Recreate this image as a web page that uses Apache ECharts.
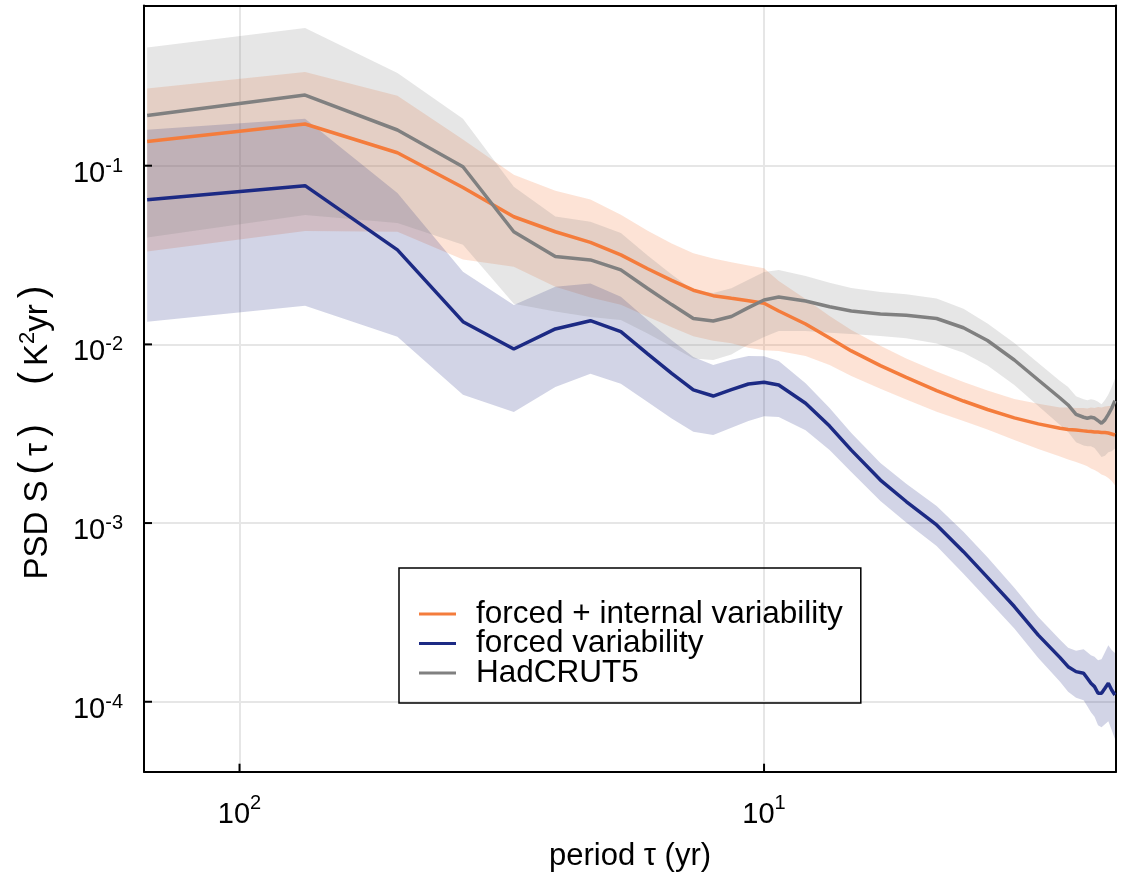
<!DOCTYPE html>
<html><head><meta charset="utf-8">
<script src="https://cdn.jsdelivr.net/npm/echarts@6/dist/echarts.min.js"></script>
<style>html,body{margin:0;padding:0;background:#fff}#c{width:1127px;height:879px}</style>
</head><body><div id="c"></div>
<script>
// period tau (yr)
const period = [150, 75, 50, 37.5, 30, 25, 21.43, 18.75, 16.67, 15, 13.64, 12.5, 11.54, 10.71, 10,
  9.375, 8.333, 7.5, 6.818, 6, 5.357, 4.688, 4.167, 3.75, 3.333, 3, 2.727,
  2.632, 2.542, 2.459, 2.419, 2.381, 2.344, 2.308, 2.273, 2.239, 2.206, 2.174, 2.143];

// forced + internal variability
const orange = [0.1366, 0.1712, 0.1182, 0.0755, 0.0518, 0.0427, 0.0372, 0.0317, 0.0265, 0.0228, 0.0201, 0.01873, 0.01811, 0.01756, 0.01698,
  0.01537, 0.0130, 0.01086, 0.00919, 0.00760, 0.00653, 0.00551, 0.00482, 0.00432, 0.00388, 0.00359, 0.00339,
  0.00334, 0.00332, 0.00328, 0.00326, 0.00325, 0.00323, 0.00323, 0.00321, 0.00321, 0.00319, 0.00315, 0.00311];
const orangeHi = [0.2705, 0.3345, 0.2463, 0.1401, 0.0890, 0.0724, 0.0647, 0.0531, 0.0432, 0.0367, 0.0324, 0.0302, 0.0288, 0.0276, 0.0267,
  0.0226, 0.01794, 0.01442, 0.01205, 0.00983, 0.00834, 0.00704, 0.00616, 0.00552, 0.00495, 0.00465, 0.00444,
  0.00444, 0.00441, 0.00441, 0.00438, 0.00443, 0.00440, 0.00446, 0.00443, 0.00449, 0.00452, 0.00452, 0.00458];
const orangeLo = [0.0331, 0.0431, 0.0427, 0.0299, 0.0272, 0.0210, 0.0183, 0.01664, 0.01428, 0.01245, 0.01111, 0.01049, 0.01014, 0.00959, 0.00927,
  0.00918, 0.00860, 0.00767, 0.00666, 0.00565, 0.00492, 0.00420, 0.00372, 0.00334, 0.00292, 0.00260, 0.00236,
  0.00227, 0.00220, 0.00212, 0.00208, 0.00202, 0.00198, 0.00193, 0.00187, 0.00184, 0.00179, 0.00172, 0.00163];

// forced variability
const blue = [0.0645, 0.0773, 0.0338, 0.01340, 0.00942, 0.01220, 0.01357, 0.01178, 0.00884, 0.00688, 0.00556, 0.00514, 0.00558, 0.00600, 0.00614,
  0.00593, 0.00468, 0.00349, 0.00256, 0.00174, 0.00132, 0.000976, 0.000692, 0.000497, 0.000341, 0.000236, 0.0001765,
  0.0001572, 0.0001474, 0.0001444, 0.0001353, 0.0001269, 0.0001215, 0.0001116, 0.0001116, 0.0001190, 0.0001269, 0.0001164, 0.0001091];
const blueHi = [0.1589, 0.1833, 0.0704, 0.0255, 0.01661, 0.0210, 0.0219, 0.01849, 0.01370, 0.01053, 0.00851, 0.00766, 0.00821, 0.00861, 0.00858,
  0.00808, 0.00606, 0.00440, 0.00319, 0.00217, 0.00166, 0.001246, 0.000895, 0.000643, 0.000435, 0.000298, 0.0002226,
  0.0002007, 0.0001932, 0.0001967, 0.0001891, 0.0001821, 0.0001788, 0.0001707, 0.0001730, 0.0001892, 0.0002071, 0.0001949, 0.0001874];
const blueLo = [0.01339, 0.01647, 0.01102, 0.00523, 0.00418, 0.00578, 0.00685, 0.00603, 0.00476, 0.00385, 0.00324, 0.00311, 0.00342, 0.00372, 0.00396,
  0.00392, 0.00331, 0.00256, 0.00193, 0.00133, 0.001007, 0.000744, 0.000521, 0.000374, 0.000257, 0.0001755, 0.0001296,
  0.0001139, 0.0001054, 0.0001020, 0.0000943, 0.0000873, 0.0000825, 0.0000739, 0.0000720, 0.0000748, 0.0000778, 0.0000695, 0.0000619];

// HadCRUT5
const gray = [0.1910, 0.2486, 0.1584, 0.0987, 0.0427, 0.0310, 0.0297, 0.0261, 0.02055, 0.01670, 0.01395, 0.01352, 0.01433, 0.01606, 0.01772,
  0.01841, 0.01749, 0.01623, 0.01538, 0.01480, 0.01455, 0.01396, 0.01239, 0.01051, 0.00818, 0.00632, 0.00501,
  0.00458, 0.00406, 0.00391, 0.00386, 0.00391, 0.00387, 0.00374, 0.00362, 0.00378, 0.00406, 0.00439, 0.00484];
const grayHi = [0.459, 0.589, 0.330, 0.1832, 0.0763, 0.0519, 0.0485, 0.0420, 0.0314, 0.0246, 0.0200, 0.0194, 0.0206, 0.0230, 0.0254,
  0.0261, 0.0241, 0.0221, 0.0207, 0.01966, 0.01908, 0.01806, 0.01582, 0.01309, 0.01018, 0.00787, 0.00624,
  0.00578, 0.00512, 0.00493, 0.00487, 0.00493, 0.00488, 0.00478, 0.00462, 0.00489, 0.00525, 0.00576, 0.00643];
const grayLo = [0.0397, 0.0530, 0.0478, 0.0361, 0.01689, 0.01526, 0.01425, 0.01370, 0.01151, 0.00972, 0.00833, 0.00818, 0.00878, 0.00997, 0.0110,
  0.01188, 0.01188, 0.01161, 0.01143, 0.01114, 0.01082, 0.01012, 0.00898, 0.00762, 0.00593, 0.00452, 0.00354,
  0.00323, 0.00283, 0.00272, 0.00269, 0.00269, 0.00263, 0.00248, 0.00234, 0.00238, 0.00249, 0.00252, 0.00261];

// tick values (decades)
const xTickVals = [10, 100];
const yTickVals = [1e-4, 1e-3, 1e-2, 1e-1];

const names = ['forced + internal variability', 'forced variability', 'HadCRUT5'];

const FONT = '"Liberation Sans", Arial, Helvetica, sans-serif';
const C_OR = '#f47c3c', C_BL = '#1c2a84', C_GR = '#808080';
const X_MIN = 2.133, X_MAX = 152.1, Y_MIN = 4.06e-5, Y_MAX = 0.788;

function decadeLabel(v) {
  const l = Math.log10(v);
  const e = Math.round(l);
  if (Math.abs(l - e) > 1e-6) return '';
  return '{b|10}{s|' + e + '}';
}
function tickRich(raise) {
  return {
    b: { fontFamily: FONT, fontSize: 29, lineHeight: 29, color: '#000', verticalAlign: 'bottom' },
    s: { fontFamily: FONT, fontSize: 20, lineHeight: 20, color: '#000', verticalAlign: 'bottom', padding: [0, 0, raise, 0] }
  };
}
function band(name, lo, hi, color) {
  return {
    type: 'custom', name: name, silent: true, clip: true, z: 1,
    data: [[period[0], hi[0]]],
    renderItem: function (params, api) {
      const pts = [];
      for (let i = 0; i < period.length; i++) pts.push(api.coord([period[i], hi[i]]));
      for (let i = period.length - 1; i >= 0; i--) pts.push(api.coord([period[i], lo[i]]));
      return { type: 'polygon', shape: { points: pts }, style: { fill: color } };
    }
  };
}
function line(name, vals, color) {
  return {
    type: 'line', name: name, data: period.map((p, i) => [p, vals[i]]),
    showSymbol: false, symbol: 'none', silent: true, z: 3,
    lineStyle: { color: color, width: 3.5 }, itemStyle: { color: color }
  };
}
const tickSeries = {
  type: 'custom', name: 'ticks', silent: true, clip: false, z: 4,
  data: [[xTickVals[0], yTickVals[0]]],
  renderItem: function (params, api) {
    const cs = params.coordSys;
    const kids = [];
    xTickVals.forEach(function (v) {
      const p = api.coord([v, Y_MIN]);
      kids.push({ type: 'line', shape: { x1: p[0], y1: cs.y + cs.height, x2: p[0], y2: cs.y + cs.height - 8 }, style: { stroke: '#000', lineWidth: 2 } });
    });
    yTickVals.forEach(function (v) {
      const p = api.coord([X_MAX, v]);
      kids.push({ type: 'line', shape: { x1: cs.x, y1: p[1], x2: cs.x + 8, y2: p[1] }, style: { stroke: '#000', lineWidth: 2 } });
    });
    return { type: 'group', children: kids };
  }
};
function frameLine() { return { show: true, onZero: false, lineStyle: { color: '#000', width: 2 } }; }
function gridStyle() { return { show: true, lineStyle: { color: '#e6e6e6', width: 2 } }; }

const chart = echarts.init(document.getElementById('c'), null, { renderer: 'canvas' });
chart.setOption({
  animation: false,
  backgroundColor: '#fff',
  grid: { left: 144, right: 11, top: 5.5, bottom: 107.3, containLabel: false, outerBoundsMode: 'none' },
  xAxis: [{
    type: 'log', logBase: 10, inverse: true, min: X_MIN, max: X_MAX, position: 'bottom',
    axisLine: frameLine(), axisTick: { show: false }, splitLine: gridStyle(),
    axisLabel: { show: true, formatter: decadeLabel, margin: 29, rich: tickRich(16), showMinLabel: false, showMaxLabel: false },
    name: 'period τ (yr)', nameLocation: 'middle', nameGap: 69, nameMoveOverlap: false,
    nameTextStyle: { fontFamily: FONT, fontSize: 31, lineHeight: 32, color: '#000' }
  }, {
    type: 'log', logBase: 10, inverse: true, min: X_MIN, max: X_MAX, position: 'top',
    axisLine: frameLine(), axisTick: { show: false }, axisLabel: { show: false }, splitLine: { show: false }
  }],
  yAxis: [{
    type: 'log', logBase: 10, min: Y_MIN, max: Y_MAX, position: 'left',
    axisLine: frameLine(), axisTick: { show: false }, splitLine: gridStyle(),
    axisLabel: { show: true, formatter: decadeLabel, margin: 21, padding: [16, 0, 0, 0], rich: tickRich(12), showMinLabel: false, showMaxLabel: false },
    name: '{t|PSD S}{p|(}{t|τ}{p|)}{t|   }{p|(}{t|K}{s|2}{t|yr}{p|)}',
    nameLocation: 'middle', nameGap: 90, nameMoveOverlap: false,
    nameTextStyle: {
      fontFamily: FONT, fontSize: 33, color: '#000', padding: [0, 82, 0, 0],
      rich: {
        t: { fontFamily: FONT, fontSize: 33, lineHeight: 33, color: '#000', verticalAlign: 'bottom' },
        p: { fontFamily: FONT, fontSize: 38, lineHeight: 38, color: '#000', verticalAlign: 'bottom', padding: [0, 6, 0, 6] },
        s: { fontFamily: FONT, fontSize: 22, lineHeight: 22, color: '#000', verticalAlign: 'bottom', padding: [0, 0, 15, 0] }
      }
    }
  }, {
    type: 'log', logBase: 10, min: Y_MIN, max: Y_MAX, position: 'right',
    axisLine: frameLine(), axisTick: { show: false }, axisLabel: { show: false }, splitLine: { show: false }
  }],
  legend: {
    data: names, orient: 'vertical', left: 399, top: 568,
    padding: [30, 18, 14, 20], itemGap: -2.5, itemWidth: 37, itemHeight: 3, icon: 'rect',
    borderColor: '#000', borderWidth: 1.5, selectedMode: false,
    textStyle: { fontFamily: FONT, fontSize: 31.5, color: '#000', lineHeight: 27, padding: [0, 0, 0, 15] }
  },
  series: [
    band('band-or', orangeLo, orangeHi, 'rgba(244,124,60,0.21)'),
    band('band-bl', blueLo, blueHi, 'rgba(28,42,132,0.2)'),
    band('band-gr', grayLo, grayHi, 'rgba(128,128,128,0.2)'),
    line(names[0], orange, C_OR),
    line(names[1], blue, C_BL),
    line(names[2], gray, C_GR),
    tickSeries
  ]
});
</script></body></html>
